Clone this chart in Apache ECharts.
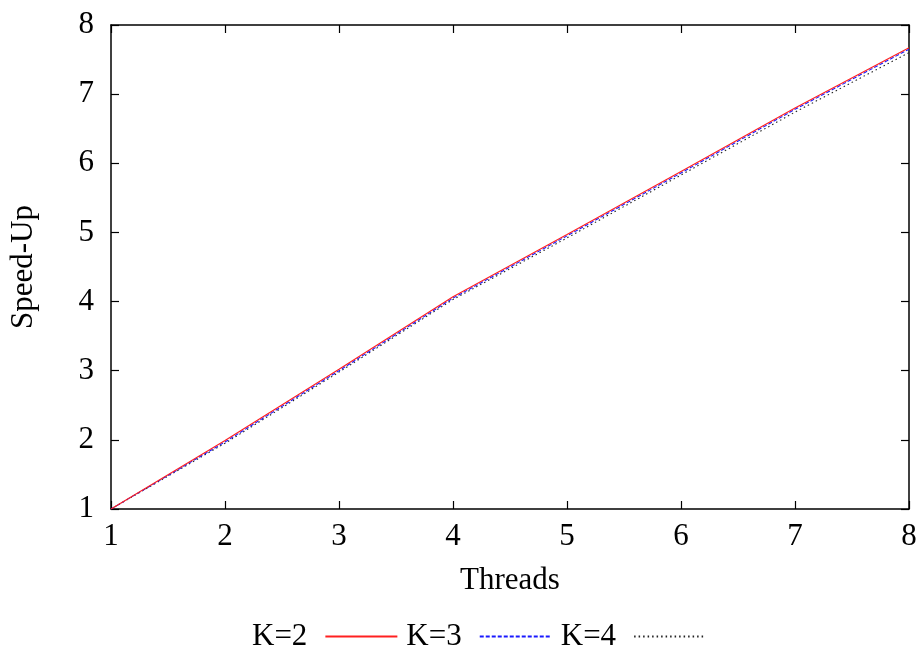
<!DOCTYPE html>
<html>
<head>
<meta charset="utf-8">
<script src="https://cdn.jsdelivr.net/npm/echarts@6/dist/echarts.min.js"></script>
<style>
    html, body { margin: 0; padding: 0; background: #fff; }
    #chart { width: 922px; height: 651px; }
</style>
</head>
<body>
<div id="chart"></div>
<script>
const threads = [1, 2, 3, 4, 5, 6, 7, 8];
const k2 = [1, 1.99, 3.02, 4.07, 4.97, 5.88, 6.8, 7.67];
const k3 = [1, 1.97, 3.0, 4.05, 4.95, 5.86, 6.78, 7.65];
const k4 = [1, 1.95, 2.98, 4.03, 4.92, 5.83, 6.74, 7.6];
const seriesNames = ['K=2', 'K=3', 'K=4'];
const xTicks = [1, 2, 3, 4, 5, 6, 7, 8];
const yTicks = [1, 2, 3, 4, 5, 6, 7, 8];

const font = 'Liberation Serif';
const fontSize = 31;

function pairs(ys) {
    return threads.map((t, i) => [t, ys[i]]);
}

// 四边都画刻度，只有左/下有数字
function makeAxis(pos, ticks, showLabel, name) {
    return {
        type: 'value',
        position: pos,
        min: ticks[0],
        max: ticks[ticks.length - 1],
        interval: 1,
        name: name,
        nameLocation: 'middle',
        nameGap: pos === 'bottom' ? 56 : 72,
        nameTextStyle: { fontFamily: font, fontSize: fontSize, color: '#000' },
        axisLine: { show: true, onZero: false, lineStyle: { color: '#000', width: 1.5 } },
        axisTick: { show: true, inside: true, length: 8, lineStyle: { color: '#000', width: 1.2 } },
        axisLabel: {
            show: showLabel,
            margin: pos === 'bottom' ? 12 : 17,
            fontFamily: font,
            fontSize: fontSize,
            color: '#000',
        },
        splitLine: { show: false },
    };
}

const chart = echarts.init(document.getElementById('chart'));
const option = {
    animation: false,
    backgroundColor: '#fff',
    grid: { left: 111, right: 13, top: 25, bottom: 142, containLabel: false },
    xAxis: [
        makeAxis('bottom', xTicks, true, 'Threads'),
        makeAxis('top', xTicks, false, ''),
    ],
    yAxis: [
        makeAxis('left', yTicks, true, 'Speed-Up'),
        makeAxis('right', yTicks, false, ''),
    ],
    legend: {
        left: 247,
        top: 616,
        align: 'right',
        itemWidth: 72,
        itemHeight: 14,
        itemGap: 8,
        itemStyle: { color: 'transparent', borderWidth: 0 },
        textStyle: { fontFamily: font, fontSize: fontSize, color: '#000', padding: [0, 13, 0, 0] },
        data: seriesNames,
    },
    series: [
        {
            name: seriesNames[0],
            type: 'line',
            data: pairs(k2),
            symbol: 'none',
            z: 4,
            lineStyle: { color: '#ff2020', width: 1.1, type: 'solid' },
            itemStyle: { color: '#ff2020' },
        },
        {
            name: seriesNames[1],
            type: 'line',
            data: pairs(k3),
            symbol: 'none',
            z: 3,
            lineStyle: { color: '#1a1aff', width: 1.1, type: [4, 2] },
            itemStyle: { color: '#1a1aff' },
        },
        {
            name: seriesNames[2],
            type: 'line',
            data: pairs(k4),
            symbol: 'none',
            z: 2,
            lineStyle: { color: '#222', width: 1.1, type: [1.5, 3] },
            itemStyle: { color: '#222' },
        },
    ],
};
chart.setOption(option);
</script>
</body>
</html>
